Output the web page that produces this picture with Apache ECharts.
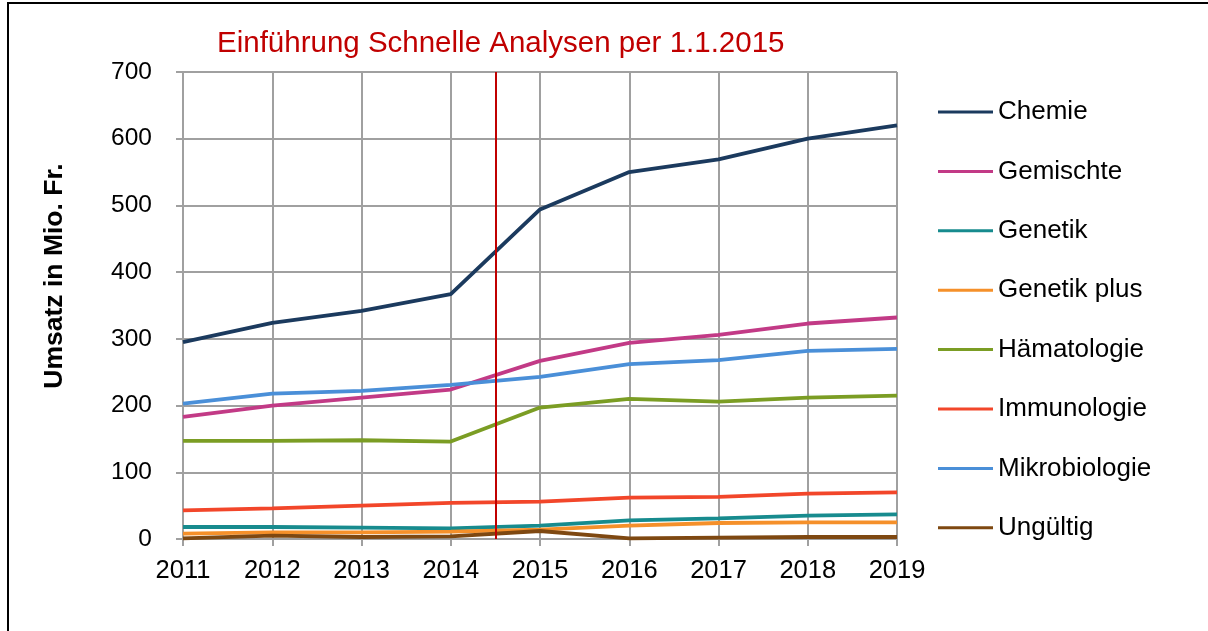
<!DOCTYPE html>
<html>
<head>
<meta charset="utf-8">
<script src="https://cdn.jsdelivr.net/npm/echarts@6/dist/echarts.min.js"></script>
<style>
  html, body { margin: 0; padding: 0; background: #fff; }
  #chart-container { width: 1208px; height: 631px; }
</style>
</head>
<body>
<div id="chart-container"></div>
<script>
var years = [2011, 2012, 2013, 2014, 2015, 2016, 2017, 2018, 2019];
var chemie = [295, 324, 342, 367, 494, 550, 569, 600, 620];
var gemischte = [183, 200, 212, 224, 267, 294, 306, 323, 332];
var genetik = [18, 18, 17, 16, 20, 28, 31, 35, 37];
var genetikPlus = [8, 10, 10, 11, 14, 20, 24, 25, 25];
var haematologie = [147, 147, 148, 146, 197, 210, 206, 212, 215];
var immunologie = [43, 46, 50, 54, 56, 62, 63, 68, 70];
var mikrobiologie = [203, 218, 222, 231, 243, 262, 268, 282, 285];
var ungueltig = [1, 5, 3, 4, 12, 1, 2, 3, 3];
var yTicks = [0, 100, 200, 300, 400, 500, 600, 700];
var introYear = 2014.5;

var seriesDefs = [
  { name: 'Chemie', data: chemie, color: '#1B3A5E' },
  { name: 'Gemischte', data: gemischte, color: '#C23A86' },
  { name: 'Genetik', data: genetik, color: '#178B8E' },
  { name: 'Genetik plus', data: genetikPlus, color: '#F5902A' },
  { name: 'Hämatologie', data: haematologie, color: '#7B9D24' },
  { name: 'Immunologie', data: immunologie, color: '#F2462A' },
  { name: 'Mikrobiologie', data: mikrobiologie, color: '#4A8FD8' },
  { name: 'Ungültig', data: ungueltig, color: '#7E4811' }
];

var dom = document.getElementById('chart-container');
var myChart = echarts.init(dom, null, { renderer: 'canvas' });

var series = seriesDefs.map(function (s, i) {
  var item = {
    name: s.name,
    type: 'line',
    symbol: 'none',
    color: s.color,
    lineStyle: { width: 3.8, color: s.color },
    data: years.map(function (y, j) { return [y, s.data[j]]; })
  };
  if (i === 0) {
    // red marker for the introduction on 1.1.2015
    item.markLine = {
      silent: true,
      symbol: 'none',
      label: { show: false },
      lineStyle: { color: '#C00000', width: 2, type: 'solid' },
      data: [{ xAxis: introYear }]
    };
  }
  return item;
});

var option = {
  animation: false,
  textStyle: { fontFamily: 'Liberation Sans, Arial, sans-serif' },
  title: {
    text: 'Einführung Schnelle Analysen per 1.1.2015',
    left: 217,
    top: 29,
    padding: 0,
    textStyle: { color: '#C00000', fontSize: 29.5, fontWeight: 'normal' }
  },
  legend: {
    orient: 'vertical',
    left: 938,
    top: 99,
    padding: 0,
    itemWidth: 55,
    itemHeight: 3,
    itemGap: 33.4,
    icon: 'rect',
    textStyle: { fontSize: 26, color: '#000' },
    data: seriesDefs.map(function (s) { return s.name; })
  },
  grid: { left: 183, right: 311, top: 72, bottom: 92 },
  xAxis: {
    type: 'value',
    min: years[0],
    max: years[years.length - 1],
    interval: 1,
    axisLine: { lineStyle: { color: '#A0A0A0', width: 2 } },
    axisTick: { show: true, length: 7, lineStyle: { color: '#A0A0A0', width: 2 } },
    axisLabel: { fontSize: 25.5, color: '#000', margin: 19, formatter: function (v) { return String(v); } },
    splitLine: { show: true, lineStyle: { color: '#A0A0A0', width: 2 } }
  },
  yAxis: {
    type: 'value',
    min: yTicks[0],
    max: yTicks[yTicks.length - 1],
    interval: 100,
    axisLine: { show: true, lineStyle: { color: '#A0A0A0', width: 2 } },
    axisTick: { show: true, length: 7, lineStyle: { color: '#A0A0A0', width: 2 } },
    axisLabel: { fontSize: 24.5, color: '#000', margin: 31 },
    splitLine: { show: true, lineStyle: { color: '#A0A0A0', width: 2 } }
  },
  graphic: [
    {
      type: 'rect',
      shape: { x: 8, y: 3, width: 1210, height: 650 },
      style: { fill: 'none', stroke: '#000', lineWidth: 2 },
      silent: true
    },
    {
      type: 'text',
      x: 55,
      y: 276,
      rotation: Math.PI / 2,
      style: {
        text: 'Umsatz in Mio. Fr.',
        font: 'bold 26.5px Liberation Sans, Arial, sans-serif',
        fill: '#000',
        align: 'center',
        verticalAlign: 'middle'
      }
    }
  ],
  series: series
};

myChart.setOption(option);
window.addEventListener('resize', myChart.resize);
</script>
</body>
</html>
